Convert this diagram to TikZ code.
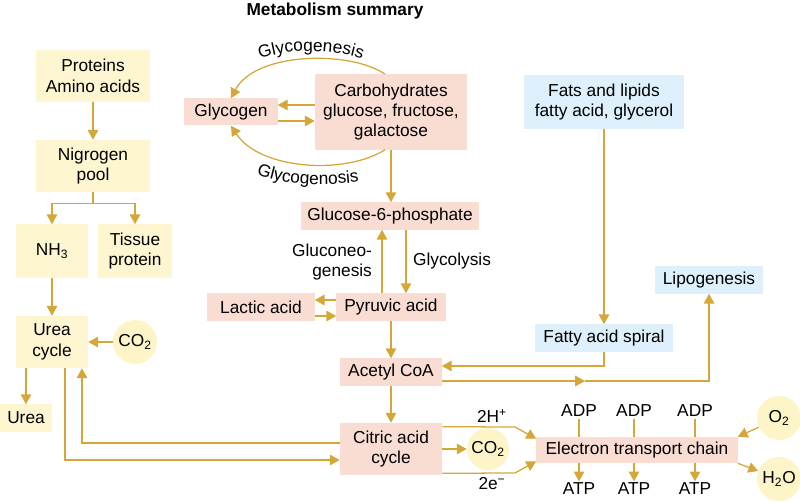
\documentclass[tikz,border=0pt]{standalone}
\usepackage{fontspec}
\setmainfont{Liberation Sans}
\usetikzlibrary{arrows.meta,calc,decorations.text}

\definecolor{ylwbox}{RGB}{254,246,208}
\definecolor{pnkbox}{RGB}{249,221,210}
\definecolor{blubox}{RGB}{222,240,251}
\definecolor{gasfill}{RGB}{253,244,200}
\definecolor{gold}{RGB}{213,167,56}

\newcommand\lblfont{\fontsize{12.3}{14.5}\selectfont}

\begin{document}
\begin{tikzpicture}[x=0.025cm, y=-0.025cm, font=\lblfont]
    \tikzstyle{protein}=[rectangle, fill=ylwbox, align=center, inner sep=1pt]
    \tikzstyle{carb}=[rectangle, fill=pnkbox, align=center, inner sep=1pt]
    \tikzstyle{fat}=[rectangle, fill=blubox, align=center, inner sep=1pt]
    \tikzstyle{gas}=[circle, fill=gasfill, inner sep=0pt, minimum size=1.1cm]
    \tikzstyle{lbl}=[inner sep=1pt, align=center]
    \tikzstyle{line}=[draw=gold, line width=0.9pt]
    \tikzstyle{arrow}=[line, -{Triangle[length=7pt, width=7.5pt]}]

    \useasboundingbox (0,0) rectangle (800,503);

    \node[font=\bfseries\lblfont] (title) at (335,11) {Metabolism summary};

    % Proteins
    \node[protein, minimum width=2.825cm, minimum height=1.3cm] (prot) at (93,76) {Proteins\\Amino acids};
    \node[protein, minimum width=2.825cm, minimum height=1.3cm] (pool) at (93,166) {Nigrogen\\pool};
    \node[protein, minimum width=1.8cm, minimum height=1.325cm] (nh3) at (52,251) {NH\textsubscript{3}};
    \node[protein, minimum width=1.825cm, minimum height=1.325cm] (tissue) at (135,251) {Tissue\\protein};
    \node[protein, minimum width=1.8cm, minimum height=1.3cm] (ureacyc) at (52,342) {Urea\\cycle};
    \node[gas] (co2a) at (135,342) {CO\textsubscript{2}};
    \node[protein, minimum width=1.3cm, minimum height=0.675cm] (urea) at (26,418) {Urea};

    % Carbohydrates
    \node[carb, minimum width=2.325cm, minimum height=0.675cm] (glycogen) at (231,112) {Glycogen};
    \node[carb, minimum width=3.8cm, minimum height=1.875cm] (carbo) at (391,112) {Carbohydrates\\glucose, fructose,\\galactose};
    \node[carb, minimum width=4.45cm, minimum height=0.675cm] (g6p) at (390,216) {Glucose-6-phosphate};
    \node[carb, minimum width=2.725cm, minimum height=0.675cm] (pyruvic) at (391,307) {Pyruvic acid};
    \node[carb, minimum width=2.675cm, minimum height=0.675cm] (lactic) at (261,307) {Lactic acid};
    \node[carb, minimum width=2.525cm, minimum height=0.675cm] (acetyl) at (391,372) {Acetyl CoA};
    \node[carb, minimum width=2.55cm, minimum height=1.3cm] (citric) at (391,449) {Citric acid\\cycle};
    \node[gas, minimum size=1.05cm] (co2b) at (488,449) {CO\textsubscript{2}};
    \node[carb, minimum width=5.025cm, minimum height=0.65cm] (etc) at (637,450) {Electron transport chain};

    % Fats
    \node[fat, minimum width=4cm, minimum height=1.325cm] (fats) at (604,102) {Fats and lipids\\fatty acid, glycerol};
    \node[fat, minimum width=3.45cm, minimum height=0.675cm] (spiral) at (604,338) {Fatty acid spiral};
    \node[fat, minimum width=2.675cm, minimum height=0.675cm] (lipo) at (709,280) {Lipogenesis};

    % Electron transport chain
    \node[lbl] (adp1) at (579,411) {ADP};
    \node[lbl] (adp2) at (634,411) {ADP};
    \node[lbl] (adp3) at (695,411) {ADP};
    \node[lbl] (atp1) at (579,489) {ATP};
    \node[lbl] (atp2) at (634,489) {ATP};
    \node[lbl] (atp3) at (695,489) {ATP};
    \node[gas] (o2) at (779,418) {O\textsubscript{2}};
    \node[gas] (h2o) at (779,479) {H\textsubscript{2}O};

    % Labels
    \node[lbl, align=right] (gluconeo) at (332,262) {Gluconeo-\\genesis};
    \node[lbl] (glycolysis) at (452,261) {Glycolysis};
    \node[lbl] (hplus) at (492,416) {2H\textsuperscript{+}};
    \node[lbl] (eminus) at (492,484) {2e\textsuperscript{−}};
    \path[decorate, decoration={text along path, text={|\lblfont|Glycogenesis}, text align=center}]
        (248,64) .. controls (282,47) and (338,47) .. (374,64);
    \path[decorate, decoration={text along path, text={|\lblfont|Glycogenosis}, text align=center}]
        (252,172) .. controls (278,185) and (322,187) .. (364,181);

    % Arrows
    \draw[arrow] (prot) -- (pool);
    \draw[line] (pool.south) -- ++(0,11) coordinate (split);
    \draw[arrow] (split) -| (nh3);
    \draw[arrow] (split) -| (tissue);
    \draw[arrow] (nh3) -- (ureacyc);
    \draw[arrow] (co2a) -- (ureacyc);
    \draw[arrow] (urea.north |- ureacyc.south) -- (urea.north);
    \draw[arrow] ($(citric.west)+(0,-6)$) -| ($(ureacyc.south)+(30,0)$);
    \draw[arrow] ($(ureacyc.south)+(13,0)$) |- ($(citric.west)+(0,11)$);

    \draw[arrow] ($(carbo.north)+(-6,0)$) .. controls (350,50) and (255,52) .. (glycogen.north);
    \draw[arrow] ($(carbo.south)+(-6,0)$) .. controls (345,175) and (260,170) .. (glycogen.south);
    \draw[arrow] ($(carbo.west)+(0,-7)$) -- ($(glycogen.east)+(0,-7)$);
    \draw[arrow] ($(glycogen.east)+(0,9)$) -- ($(carbo.west)+(0,9)$);
    \draw[arrow] (carbo.south) -- (carbo.south |- g6p.north);
    \draw[arrow] ($(pyruvic.north)+(-9,0)$) coordinate (gn) -- (gn |- g6p.south);
    \draw[arrow] ($(g6p.south)+(16,0)$) coordinate (gl) -- (gl |- pyruvic.north);
    \draw[arrow] ($(pyruvic.west)+(0,-7)$) -- ($(lactic.east)+(0,-7)$);
    \draw[arrow] ($(lactic.east)+(0,9)$) -- ($(pyruvic.west)+(0,9)$);
    \draw[arrow] (pyruvic) -- (acetyl);
    \draw[arrow] (acetyl) -- (citric);
    \draw[arrow] (citric) -- (co2b);

    \draw[arrow] (fats) -- (spiral);
    \draw[arrow] (spiral.south) |- ($(acetyl.east)+(0,-6)$);
    \coordinate (mid) at (585,381);
    \draw[arrow] ($(acetyl.east)+(0,9)$) -- (mid);
    \draw[arrow] (mid) -| (lipo.south);

    \draw[arrow] ($(citric.north east)+(0,4)$) -- (515,427) -- ($(etc.north west)+(0,2)$);
    \draw[arrow] ($(citric.south east)+(0,-2)$) -- (515,473) -- ($(etc.south west)+(0,-2)$);
    \foreach \i in {1,2,3} {
        \draw[line] (adp\i) -- (adp\i |- etc.north);
        \draw[arrow] (adp\i |- etc.south) -- (atp\i);
    }
    \draw[arrow] (o2) -- (etc.north east);
    \draw[arrow] (etc.south east) -- (h2o);
\end{tikzpicture}
\end{document}
